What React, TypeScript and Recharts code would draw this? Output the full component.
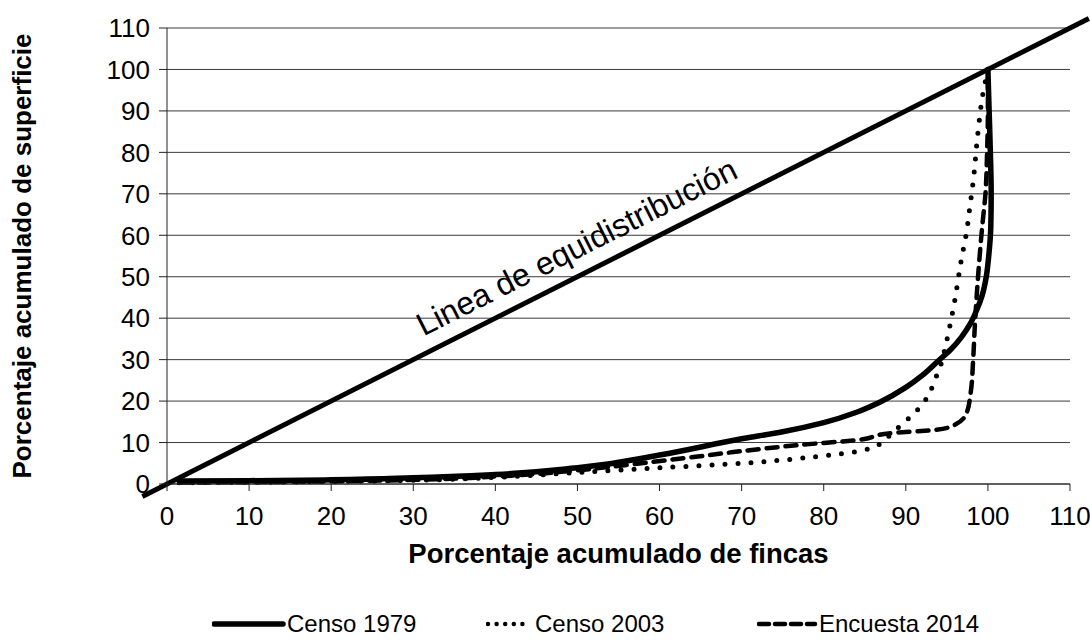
import { CartesianGrid, Label, Legend, Line, LineChart, ReferenceLine, XAxis, YAxis } from 'recharts';

const FONT = '"Liberation Sans", Arial, sans-serif';

const axisTicks = [0, 10, 20, 30, 40, 50, 60, 70, 80, 90, 100, 110];

// x = porcentaje acumulado de fincas, y = porcentaje acumulado de superficie
const censo1979 = [
    { x: 1.5, y: 0.7 }, { x: 10, y: 0.8 }, { x: 20, y: 1.0 }, { x: 30, y: 1.5 },
    { x: 40, y: 2.3 }, { x: 50, y: 3.9 }, { x: 60, y: 7.0 }, { x: 70, y: 10.9 },
    { x: 75, y: 12.6 }, { x: 80, y: 14.8 }, { x: 84, y: 17.3 }, { x: 87, y: 19.9 },
    { x: 90, y: 23.3 }, { x: 92, y: 26.2 }, { x: 94, y: 29.8 }, { x: 95.5, y: 32.5 },
    { x: 96.8, y: 35.5 }, { x: 97.8, y: 38.5 }, { x: 98.6, y: 41.8 }, { x: 99.3, y: 45.5 },
    { x: 99.8, y: 50 }, { x: 100.1, y: 55 }, { x: 100.35, y: 62 }, { x: 100.4, y: 70 },
    { x: 100.3, y: 80 }, { x: 100.15, y: 90 }, { x: 100, y: 100 },
];

const censo2003 = [
    { x: 1.5, y: 0.3 }, { x: 10, y: 0.4 }, { x: 20, y: 0.6 }, { x: 30, y: 0.9 },
    { x: 40, y: 1.6 }, { x: 50, y: 2.8 }, { x: 60, y: 3.9 }, { x: 70, y: 5.0 },
    { x: 80, y: 6.8 }, { x: 84, y: 7.8 }, { x: 86.5, y: 9.3 }, { x: 88.3, y: 12.3 },
    { x: 89.7, y: 14.7 }, { x: 90.8, y: 16.6 }, { x: 91.9, y: 19 }, { x: 92.8, y: 21.5 },
    { x: 93.4, y: 24.4 }, { x: 94.3, y: 29 }, { x: 94.8, y: 33 }, { x: 95.8, y: 42.5 },
    { x: 96.8, y: 54.5 }, { x: 97.4, y: 60.8 }, { x: 97.8, y: 66.8 }, { x: 98.2, y: 72.9 },
    { x: 98.8, y: 85 }, { x: 99.3, y: 93 }, { x: 100, y: 100 },
];

const encuesta2014 = [
    { x: 1.5, y: 0.35 }, { x: 10, y: 0.45 }, { x: 20, y: 0.65 }, { x: 30, y: 1.0 },
    { x: 40, y: 1.8 }, { x: 50, y: 3.3 }, { x: 56, y: 4.6 }, { x: 62.9, y: 6.2 },
    { x: 69, y: 7.7 }, { x: 77, y: 9.4 }, { x: 84, y: 10.6 }, { x: 88.4, y: 12.3 },
    { x: 93.3, y: 13.0 }, { x: 95.7, y: 14 }, { x: 97.4, y: 17.1 }, { x: 97.9, y: 22 },
    { x: 98.2, y: 29.9 }, { x: 98.4, y: 37.9 }, { x: 98.8, y: 50 }, { x: 99.3, y: 62 },
    { x: 99.7, y: 70 }, { x: 99.9, y: 80 }, { x: 100, y: 90 }, { x: 100, y: 100 },
];

const equidistribucion = [{ x: -3, y: -3 }, { x: 112.3, y: 112.3 }];

const series = [
    { name: 'Censo 1979', data: censo1979, width: 5.5, dash: undefined as string | undefined, legendDash: undefined as string | undefined, legendWidth: 5.5, sample: 71, left: 212 },
    { name: 'Censo 2003', data: censo2003, width: 5, dash: '0 13', legendDash: '0 8.6', legendWidth: 4.5, sample: 45, left: 486 },
    { name: 'Encuesta 2014', data: encuesta2014, width: 4.5, dash: '11 8', legendDash: '10 6', legendWidth: 4.5, sample: 58, left: 757 },
];

function EquidistLabel(props: any) {
    const vb = props.viewBox;
    if (!vb) return null;
    const cx = vb.x + vb.width / 2;
    const cy = vb.y + vb.height / 2;
    const angle = (-Math.atan2(Math.abs(vb.height), Math.abs(vb.width)) * 180) / Math.PI;
    return (
        <text
            transform={`translate(${cx},${cy}) rotate(${angle})`}
            x={-30}
            y={-16}
            textAnchor="middle"
            fontFamily={FONT}
            fontSize={32}
            fill="#000"
        >
            Linea de equidistribución
        </text>
    );
}

function LegendContent() {
    return (
        <div style={{ position: 'relative', height: 34, fontFamily: FONT, fontSize: 24, color: '#000' }}>
            {series.map((s) => (
                <div key={s.name} style={{ position: 'absolute', left: s.left, top: 0, height: 34, display: 'flex', alignItems: 'center' }}>
                    <svg width={s.sample + 3} height={12}>
                        <line
                            x1={2}
                            y1={6}
                            x2={s.sample}
                            y2={6}
                            stroke="#000"
                            strokeWidth={s.legendWidth}
                            strokeDasharray={s.legendDash}
                            strokeLinecap="round"
                        />
                    </svg>
                    <span style={{ marginLeft: 1, whiteSpace: 'nowrap' }}>{s.name}</span>
                </div>
            ))}
        </div>
    );
}

export default function App() {
    const tickStyle = { fontSize: 26, fill: '#000', fontFamily: FONT };
    return (
        <div style={{ width: 1090, height: 641, background: '#fff' }}>
            <style>{'body{margin:0}'}</style>
            <LineChart width={1090} height={641} margin={{ top: 28, right: 20, bottom: 0, left: 0 }}>
                <CartesianGrid vertical={false} stroke="#3a3a3a" strokeWidth={1} />
                <XAxis
                    type="number"
                    dataKey="x"
                    domain={[0, 110]}
                    ticks={axisTicks}
                    interval={0}
                    height={123}
                    tickSize={7}
                    tickMargin={16}
                    tick={tickStyle}
                    axisLine={{ stroke: '#222' }}
                    tickLine={{ stroke: '#222' }}
                >
                    <Label
                        value="Porcentaje acumulado de fincas"
                        position="insideBottom"
                        offset={44}
                        style={{ fontWeight: 'bold', fontSize: 27.5, fill: '#000', fontFamily: FONT }}
                    />
                </XAxis>
                <YAxis
                    type="number"
                    domain={[0, 110]}
                    ticks={axisTicks}
                    interval={0}
                    width={167}
                    tickSize={8}
                    tickMargin={9}
                    tick={tickStyle}
                    axisLine={{ stroke: '#222' }}
                    tickLine={{ stroke: '#222' }}
                >
                    <Label
                        value="Porcentaje acumulado de superficie"
                        angle={-90}
                        position="insideLeft"
                        offset={22}
                        style={{ textAnchor: 'middle', fontWeight: 'bold', fontSize: 26, fill: '#000', fontFamily: FONT }}
                    />
                </YAxis>
                <ReferenceLine
                    segment={equidistribucion}
                    stroke="#000"
                    strokeWidth={5}
                    ifOverflow="visible"
                    label={<EquidistLabel />}
                />
                {series.map((s) => (
                    <Line
                        key={s.name}
                        name={s.name}
                        data={s.data}
                        dataKey="y"
                        type="monotoneY"
                        stroke="#000"
                        strokeWidth={s.width}
                        strokeDasharray={s.dash}
                        strokeLinecap="round"
                        dot={false}
                        activeDot={false}
                        isAnimationActive={false}
                    />
                ))}
                <Legend verticalAlign="bottom" align="left" content={<LegendContent />} wrapperStyle={{ left: 0, width: 1090 }} />
            </LineChart>
        </div>
    );
}
